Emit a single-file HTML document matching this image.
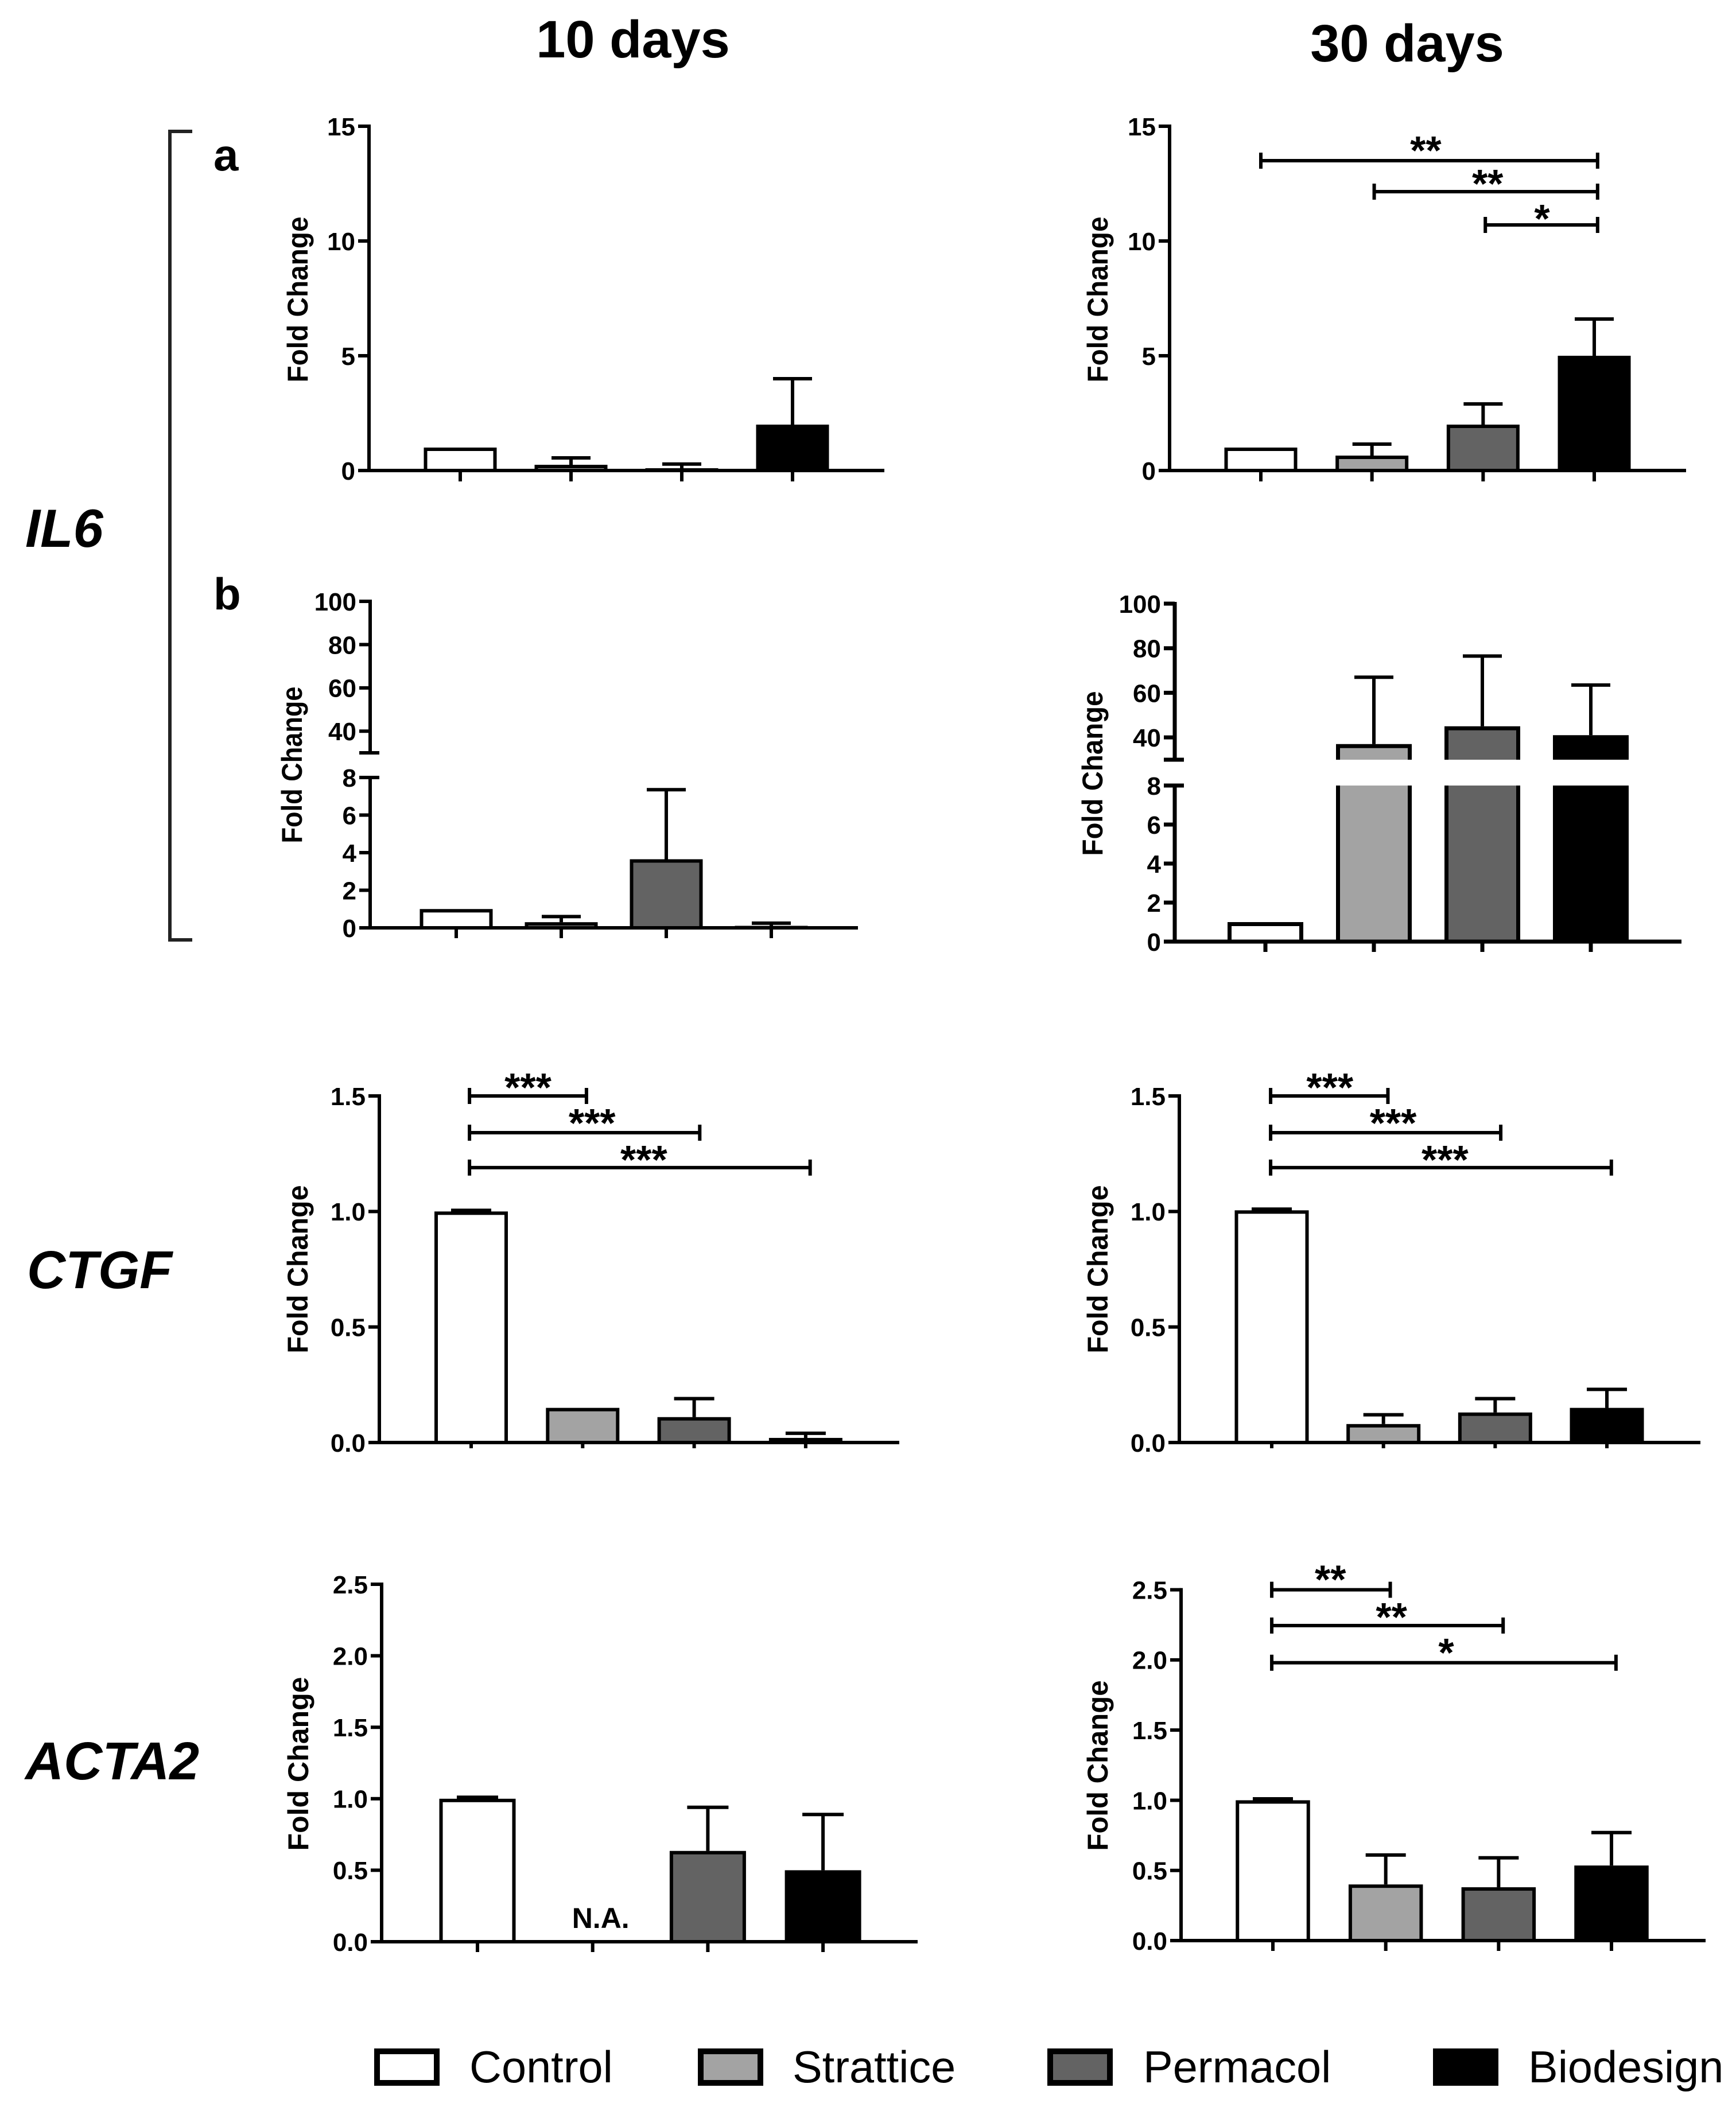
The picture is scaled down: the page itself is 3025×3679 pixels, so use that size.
<!DOCTYPE html>
<html lang="en">
<head>
<meta charset="utf-8">
<title>Fold change in gene expression at 10 and 30 days</title>
<style>
html,body{margin:0;padding:0;background:#fff;width:3025px;height:3679px;overflow:hidden}
svg{display:block}
text{font-family:"Liberation Sans",Arial,sans-serif;fill:#000}
.b{font-weight:700}
</style>
</head>
<body>
<svg id="figure" width="3025" height="3679" viewBox="0 0 3025 3679" xmlns="http://www.w3.org/2000/svg">
  <rect x="0" y="0" width="3025" height="3679" fill="#fff"/>
  <text class="b" x="1103" y="100" font-size="92" text-anchor="middle">10 days</text>
  <text class="b" x="2452" y="107" font-size="92" text-anchor="middle">30 days</text>
  <text class="b" font-style="italic" x="44" y="953" font-size="94">IL6</text>
  <text class="b" font-style="italic" x="47" y="2245" font-size="93">CTGF</text>
  <text class="b" font-style="italic" x="44" y="3101" font-size="93">ACTA2</text>
  <text class="b" x="372" y="297" font-size="78">a</text>
  <text class="b" x="372" y="1062" font-size="78">b</text>
  <path d="M335 229H296V1638H335" fill="none" stroke="#222" stroke-width="6"/>

  <g>
    <rect x="657" y="3575" width="104" height="55" fill="#fff" stroke="#000" stroke-width="10"/>
    <text x="818" y="3629" font-size="77.5">Control</text>
    <rect x="1221" y="3575" width="104" height="55" fill="#a3a3a3" stroke="#000" stroke-width="10"/>
    <text x="1381" y="3629" font-size="77.5">Strattice</text>
    <rect x="1830" y="3575" width="104" height="55" fill="#636363" stroke="#000" stroke-width="10"/>
    <text x="1992" y="3629" font-size="77.5">Permacol</text>
    <rect x="2502" y="3575" width="104" height="55" fill="#000" stroke="#000" stroke-width="10"/>
    <text x="2663" y="3629" font-size="77.5">Biodesign</text>
  </g>
</svg>
<script>
// ---- Data ----
const categories = ['Control', 'Strattice', 'Permacol', 'Biodesign'];
const barFills = ['#fff', '#a3a3a3', '#636363', '#000'];

const il6a10Values = [1, 0.25, 0.1, 2];
const il6a10Errors = [null, 0.55, 0.28, 4];
const il6a10Ticks = ['0', '5', '10', '15'];

const il6a30Values = [1, 0.65, 2, 5];
const il6a30Errors = [null, 1.15, 2.9, 6.6];
const il6a30Ticks = ['0', '5', '10', '15'];
const il6a30BracketFrom = [0, 1.02, 2.02];
const il6a30BracketTo = [3.03, 3.03, 3.03];
const il6a30BracketLevels = [13.5, 12.15, 10.7];
const il6a30BracketLabels = ['**', '**', '*'];

const il6b10Values = [1, 0.3, 3.65, 0.1];
const il6b10Errors = [null, 0.6, 7.35, 0.25];
const il6b10TicksLow = ['0', '2', '4', '6', '8'];
const il6b10TicksHigh = ['40', '60', '80', '100'];

const il6b30Values = [1, 37, 45, 41];
const il6b30Errors = [null, 67, 76.5, 63.5];
const il6b30TicksLow = ['0', '2', '4', '6', '8'];
const il6b30TicksHigh = ['40', '60', '80', '100'];

const ctgf10Values = [1, 0.15, 0.11, 0.02];
const ctgf10Errors = [1.005, null, 0.19, 0.04];
const ctgf10Ticks = ['0.0', '0.5', '1.0', '1.5'];
const ctgf10BracketFrom = [-0.015, -0.015, -0.015];
const ctgf10BracketTo = [1.034, 2.05, 3.04];
const ctgf10BracketLevels = [1.5, 1.341, 1.19];
const ctgf10BracketLabels = ['***', '***', '***'];

const ctgf30Values = [1.005, 0.08, 0.13, 0.15];
const ctgf30Errors = [1.01, 0.12, 0.19, 0.23];
const ctgf30Ticks = ['0.0', '0.5', '1.0', '1.5'];
const ctgf30BracketFrom = [-0.01, -0.01, -0.01];
const ctgf30BracketTo = [1.04, 2.05, 3.04];
const ctgf30BracketLevels = [1.5, 1.341, 1.19];
const ctgf30BracketLabels = ['***', '***', '***'];

const acta10Values = [1, null, 0.635, 0.5];
const acta10Errors = [1.01, null, 0.94, 0.89];
const acta10Ticks = ['0.0', '0.5', '1.0', '1.5', '2.0', '2.5'];

const acta30Values = [1, 0.4, 0.38, 0.535];
const acta30Errors = [1.01, 0.61, 0.59, 0.77];
const acta30Ticks = ['0.0', '0.5', '1.0', '1.5', '2.0', '2.5'];
const acta30BracketFrom = [-0.01, -0.01, -0.01];
const acta30BracketTo = [1.04, 2.04, 3.04];
const acta30BracketLevels = [2.5, 2.245, 1.98];
const acta30BracketLabels = ['**', '**', '*'];

// ---- Drawing ----
const NS = 'http://www.w3.org/2000/svg';
const root = document.getElementById('figure');

function create(tag, parent, attrs) {
  const el = document.createElementNS(NS, tag);
  for (const k in attrs) el.setAttribute(k, attrs[k]);
  parent.appendChild(el);
  return el;
}

function line(parent, name, x1, y1, x2, y2, w) {
  const el = create('line', parent, { x1: x1, y1: y1, x2: x2, y2: y2, stroke: '#000', 'stroke-width': w });
  
  
  return el;
}

function label(parent, name, str, x, y, size, anchor) {
  const el = create('text', parent, { x: x, y: y, 'font-size': size, 'text-anchor': anchor, 'font-weight': 700 });
  el.textContent = str;
  
  
  return el;
}

function drawPanel(p) {
  const g = create('g', root, {});
  
  

  const low = p.low, high = p.high;
  // y axis functions: linear, optionally with a broken upper segment
  function yLow(v) { return low.y0 - (v - low.v0) / (low.v1 - low.v0) * (low.y0 - low.y1); }
  function yHigh(v) { return high.y0 - (v - high.v0) / (high.v1 - high.v0) * (high.y0 - high.y1); }
  function yScale(v) { return (high && v >= high.v0) ? yHigh(v) : yLow(v); }
  function xScale(i) { return p.x0 + i * p.step; }

  const w = p.stroke;
  const baseY = yLow(low.v0);

  // bars
  p.values.forEach(function (v, i) {
    if (v === null) return;
    const cx = xScale(i), l = cx - p.barW / 2, r = cx + p.barW / 2;
    const inset = w / 2;
    const bg = create('g', g, {});
    
    
    if (high && v >= high.v0) {
      const top = yHigh(v);
      create('path', bg, { d: 'M' + (l + inset) + ' ' + high.y0 + 'V' + (top + inset) + 'H' + (r - inset) + 'V' + high.y0, fill: barFills[i], stroke: '#000', 'stroke-width': w });
      create('path', bg, { d: 'M' + (l + inset) + ' ' + low.y1 + 'V' + baseY + 'H' + (r - inset) + 'V' + low.y1, fill: barFills[i], stroke: '#000', 'stroke-width': w });
    } else {
      const top = yLow(v);
      create('rect', bg, { x: l + inset, y: Math.min(top + inset, baseY - 0.5), width: p.barW - w, height: Math.max(baseY - top - inset, 0.5), fill: barFills[i], stroke: '#000', 'stroke-width': w });
    }
  });

  // error bars
  p.errors.forEach(function (e, i) {
    if (e === null) return;
    const cx = xScale(i), top = yScale(e);
    const bottom = yScale(p.values[i]);
    line(g, 'error-stem-' + categories[i].toLowerCase(), cx, bottom, cx, top, 6);
    line(g, 'error-cap-' + categories[i].toLowerCase(), cx - p.capW / 2, top, cx + p.capW / 2, top, 6);
  });

  // y axis
  if (high) {
    line(g, 'y-axis-upper', p.axisX, high.y1 - 3, p.axisX, high.y0 + 3, w);
    line(g, 'y-axis-lower', p.axisX, low.y1 - 3, p.axisX, low.y0 + 3, w);
    line(g, 'axis-break-top', p.axisX - 19, high.y0, p.axisX + 16, high.y0, w);
    line(g, 'axis-break-bottom', p.axisX - 19, low.y1, p.axisX + 16, low.y1, w);
  } else {
    line(g, 'y-axis', p.axisX, low.y1 - 3, p.axisX, low.y0 + 3, w);
  }

  p.ticksLow.forEach(function (t) {
    const y = yLow(parseFloat(t));
    line(g, 'y-tick-' + t, p.axisX - 19, y, p.axisX, y, w);
    label(g, 'y-tick-label-' + t, t, p.axisX - 24, y + p.tickFont * 0.36, p.tickFont, 'end');
  });
  if (high) {
    p.ticksHigh.forEach(function (t) {
      const y = yHigh(parseFloat(t));
      line(g, 'y-tick-' + t, p.axisX - 19, y, p.axisX, y, w);
      label(g, 'y-tick-label-' + t, t, p.axisX - 24, y + p.tickFont * 0.36, p.tickFont, 'end');
    });
  }

  // x axis
  line(g, 'x-axis', p.axisX, baseY, p.xEnd, baseY, w);
  categories.forEach(function (c, i) {
    const el = line(g, 'x-tick-' + c.toLowerCase(), xScale(i), baseY, xScale(i), baseY + p.xTick, w);
    el.setAttribute('aria-label', c);
  });

  // y axis title
  const title = create('text', g, {
    transform: 'translate(' + p.titleX + ' ' + p.titleY + ') rotate(-90)',
    'text-anchor': 'middle', 'font-size': 50, 'font-weight': 700,
    textLength: p.titleLen, lengthAdjust: 'spacingAndGlyphs'
  });
  title.textContent = 'Fold Change';
  
  

  // significance brackets
  if (p.bracketLevels) {
    p.bracketLevels.forEach(function (lv, i) {
      const y = yScale(lv), a = xScale(p.bracketFrom[i]), b = xScale(p.bracketTo[i]);
      const bg = create('g', g, {});
      
      
      line(bg, 'bracket-span', a, y, b, y, 6);
      line(bg, 'bracket-end-left', a, y - 14, a, y + 14, 6);
      line(bg, 'bracket-end-right', b, y - 14, b, y + 14, 6);
      const cx = (a + b) / 2 + p.starShift[i];
      label(bg, 'significance-stars', p.bracketLabels[i], cx, y - p.starRise[i] + 32, 70, 'middle');
    });
  }

  // note for a missing group
  if (p.note) {
    label(g, 'not-available-note', p.note, xScale(1) + 14, baseY - 24, 50, 'middle');
  }
}

drawPanel({ id: 'il6-a-10-days', axisX: 643, xEnd: 1541, x0: 802, step: 193, barW: 127, capW: 68, stroke: 6, xTick: 19, tickFont: 44,
  low: { v0: 0, v1: 15, y0: 820, y1: 220 },
  values: il6a10Values, errors: il6a10Errors, ticksLow: il6a10Ticks,
  titleX: 536, titleY: 522, titleLen: 289 });

drawPanel({ id: 'il6-a-30-days', axisX: 2038, xEnd: 2938, x0: 2197, step: 193.67, barW: 127, capW: 68, stroke: 6, xTick: 19, tickFont: 44,
  low: { v0: 0, v1: 15, y0: 820, y1: 220 },
  values: il6a30Values, errors: il6a30Errors, ticksLow: il6a30Ticks,
  titleX: 1930, titleY: 522, titleLen: 289,
  bracketFrom: il6a30BracketFrom, bracketTo: il6a30BracketTo, bracketLevels: il6a30BracketLevels, bracketLabels: il6a30BracketLabels,
  starShift: [-6, 3, 1], starRise: [26, 22, 19] });

drawPanel({ id: 'il6-b-10-days', axisX: 645, xEnd: 1495, x0: 795, step: 183, barW: 127, capW: 68, stroke: 6, xTick: 18, tickFont: 44,
  low: { v0: 0, v1: 8, y0: 1617, y1: 1355 }, high: { v0: 30, v1: 100, y0: 1312, y1: 1048 },
  values: il6b10Values, errors: il6b10Errors, ticksLow: il6b10TicksLow, ticksHigh: il6b10TicksHigh,
  titleX: 526, titleY: 1333, titleLen: 273 });

drawPanel({ id: 'il6-b-30-days', axisX: 2047, xEnd: 2930, x0: 2205, step: 189, barW: 132, capW: 68, stroke: 7, xTick: 18, tickFont: 44,
  low: { v0: 0, v1: 8, y0: 1641, y1: 1369 }, high: { v0: 30, v1: 100, y0: 1324, y1: 1052 },
  values: il6b30Values, errors: il6b30Errors, ticksLow: il6b30TicksLow, ticksHigh: il6b30TicksHigh,
  titleX: 1921, titleY: 1348, titleLen: 287 });

drawPanel({ id: 'ctgf-10-days', axisX: 661, xEnd: 1567, x0: 821, step: 194.3, barW: 128, capW: 70, stroke: 6, xTick: 10, tickFont: 44,
  low: { v0: 0, v1: 1.5, y0: 2514, y1: 1910 },
  values: ctgf10Values, errors: ctgf10Errors, ticksLow: ctgf10Ticks,
  titleX: 536, titleY: 2212, titleLen: 293,
  bracketFrom: ctgf10BracketFrom, bracketTo: ctgf10BracketTo, bracketLevels: ctgf10BracketLevels, bracketLabels: ctgf10BracketLabels,
  starShift: [0, 13, 7], starRise: [23, 25, 22] });

drawPanel({ id: 'ctgf-30-days', axisX: 2055, xEnd: 2963, x0: 2216, step: 194.67, barW: 129, capW: 70, stroke: 6, xTick: 10, tickFont: 44,
  low: { v0: 0, v1: 1.5, y0: 2514, y1: 1910 },
  values: ctgf30Values, errors: ctgf30Errors, ticksLow: ctgf30Ticks,
  titleX: 1930, titleY: 2212, titleLen: 293,
  bracketFrom: ctgf30BracketFrom, bracketTo: ctgf30BracketTo, bracketLevels: ctgf30BracketLevels, bracketLabels: ctgf30BracketLabels,
  starShift: [1, 13, 7], starRise: [23, 25, 22] });

drawPanel({ id: 'acta2-10-days', axisX: 665, xEnd: 1599, x0: 832, step: 200.7, barW: 133, capW: 72, stroke: 6, xTick: 18, tickFont: 44,
  low: { v0: 0, v1: 2.5, y0: 3384, y1: 2761 },
  values: acta10Values, errors: acta10Errors, ticksLow: acta10Ticks,
  titleX: 537, titleY: 3074, titleLen: 303, note: 'N.A.' });

drawPanel({ id: 'acta2-30-days', axisX: 2058, xEnd: 2972, x0: 2218, step: 196.67, barW: 129.5, capW: 70, stroke: 6, xTick: 18, tickFont: 44,
  low: { v0: 0, v1: 2.5, y0: 3382, y1: 2770.6 },
  values: acta30Values, errors: acta30Errors, ticksLow: acta30Ticks,
  titleX: 1930, titleY: 3077, titleLen: 297,
  bracketFrom: acta30BracketFrom, bracketTo: acta30BracketTo, bracketLevels: acta30BracketLevels, bracketLabels: acta30BracketLabels,
  starShift: [-1, 7, 4], starRise: [26, 23, 26] });
</script>
</body>
</html>
